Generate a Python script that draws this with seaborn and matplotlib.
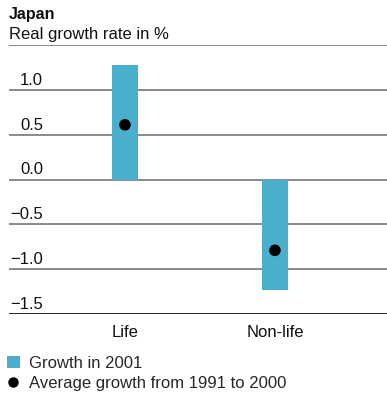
import matplotlib
matplotlib.use("Agg")
import matplotlib.pyplot as plt
import seaborn as sns
import pandas as pd
from matplotlib.lines import Line2D
from matplotlib.patches import Patch

categories = ["Life", "Non-life"]
growth_2001 = [1.28, -1.23]
avg_1991_2000 = [0.61, -0.79]
yticks = [-1.5, -1.0, -0.5, 0.0, 0.5, 1.0, 1.5]

sns.set_theme(style="white")
plt.rcParams['font.family'] = ['Liberation Sans', 'DejaVu Sans']

BAR = "#4AAFCD"
TXT = "#111111"
FS = 12
df = pd.DataFrame({"cat": categories, "g": growth_2001, "avg": avg_1991_2000})

fig = plt.figure(figsize=(3.87, 3.97), dpi=100)
W, H = 387, 397
ax = fig.add_axes([9 / W, (H - 314) / H, (W - 9) / W, (314 - 45) / H])

sns.barplot(data=df, x="cat", y="g", color=BAR, width=0.173, saturation=1,
            ax=ax, zorder=3, linewidth=0, edgecolor="none")
sns.scatterplot(data=df, x="cat", y="avg", color="black", s=70, ax=ax,
                zorder=4, edgecolor="none")

ax.set_xlim(-0.773, 1.747)
ax.set_ylim(-1.5, 1.5)
for sp in ax.spines.values():
    sp.set_visible(False)
for t in yticks:
    if t == -1.5:
        ax.axhline(t, color="black", lw=1.2, zorder=2)
    else:
        ax.axhline(t, color="#777777", lw=1.2, zorder=2)
ax.set_yticks([])
ax.set_xlabel("")
ax.set_ylabel("")
ax.tick_params(axis="x", length=0, pad=8, labelsize=FS, labelcolor=TXT)

# y tick labels above the gridlines
for t in yticks[:-1]:
    ax.annotate(f"{t:.1f}".replace("-", "\u2212"), xy=(0, t), xycoords=("axes fraction", "data"),
                xytext=(34, 2), textcoords="offset pixels", ha="right", va="bottom",
                fontsize=FS, color=TXT)

fig.text(9 / W, 1 - 15 / H, "Japan", fontsize=11.5, fontweight="bold", va="center", ha="left", color=TXT)
fig.text(9 / W, 1 - 35 / H, "Real growth rate in %", fontsize=FS, va="center", ha="left", color=TXT)

handles = [Patch(facecolor=BAR, edgecolor="none"),
           Line2D([], [], marker="o", ls="none", color="black", markersize=6.5)]
fig.legend(handles, ["Growth in 2001", "Average growth from 1991 to 2000"],
           loc="upper left", bbox_to_anchor=(7 / W, 1 - 356 / H), frameon=False,
           fontsize=FS, handlelength=0.75, handleheight=0.75, handletextpad=0.55,
           labelspacing=0.3, borderaxespad=0, borderpad=0)

fig.savefig("out.png", dpi=100)
